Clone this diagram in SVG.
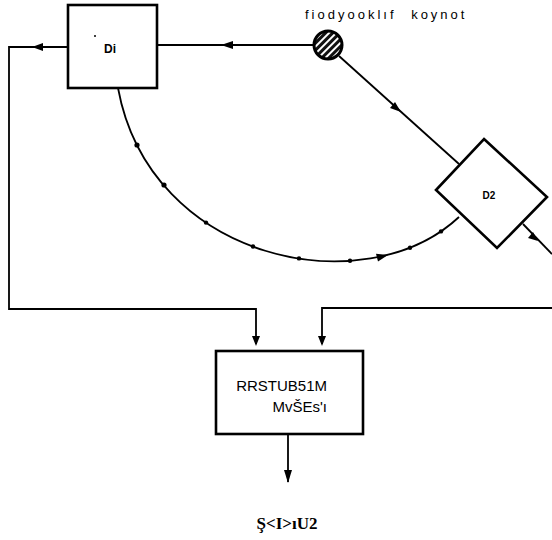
<svg xmlns="http://www.w3.org/2000/svg" width="552" height="540" viewBox="0 0 552 540">
<style>
.ln{fill:none;stroke:#000;stroke-width:1.8}
.bx{fill:#fff;stroke:#000;stroke-width:2.6}
.ah{fill:#000}
.dot{fill:#000}
.lbl{font-family:"Liberation Sans",Arial,sans-serif;fill:#000}
</style>
<defs>
<pattern id="hatch" patternUnits="userSpaceOnUse" width="5" height="5" patternTransform="rotate(-45)">
<rect width="5" height="5" fill="#111"/>
<rect width="5" height="2" fill="#fff"/>
</pattern>
</defs>
<g id="connectors">
<path class="ln" d="M68,47 H9 V309 H256 V344"/>
<path class="ln" d="M313,45 H157"/>
<path class="ln" d="M339,56 L459,164"/>
<path class="ln" d="M118,88 C150,262 365,305 459,217"/>
<path class="ln" d="M523,224 L552,254"/>
<path class="ln" d="M552,308 H322 V344"/>
<path class="ln" d="M288,435 V482"/>
<polygon class="ah" points="32,47 43,43 43,51"/>
<polygon class="ah" points="221,45 233,41 233,49"/>
<polygon class="ah" points="401,112 390,108 395,102"/>
<polygon class="ah" points="256,346 252,336 260,336"/>
<polygon class="ah" points="322,346 318,336 326,336"/>
<polygon class="ah" points="288,483 284,470 292,470"/>
<polygon class="ah" points="388,255 376,253.8 378,261.6"/>
<polygon class="ah" points="538,241 528,238 533,232"/>
<circle class="dot" cx="137" cy="145" r="2.6"/>
<circle class="dot" cx="164" cy="185" r="2.6"/>
<circle class="dot" cx="206" cy="222.6" r="2.2"/>
<circle class="dot" cx="253" cy="246.5" r="2.2"/>
<circle class="dot" cx="299" cy="258.4" r="2.2"/>
<circle class="dot" cx="350" cy="260.8" r="2.2"/>
<circle class="dot" cx="410" cy="247.8" r="2.2"/>
<circle class="dot" cx="441" cy="231.4" r="2.2"/>
</g>
<g id="D1">
<rect class="bx" x="68" y="5" width="89" height="83"/>
<circle class="dot" cx="95" cy="36" r="1"/>
<text class="lbl" x="110" y="53" font-size="12" font-weight="bold" text-anchor="middle">Di</text>
</g>
<g id="source">
<circle cx="328" cy="45" r="14" fill="url(#hatch)" stroke="#000" stroke-width="3"/>
<text class="lbl" x="305" y="19" font-size="13" letter-spacing="3" word-spacing="8">fiodyooklıf koynot</text>
</g>
<g id="D2">
<polygon class="bx" stroke-width="2" points="484,139 547,197 497,248 436,190"/>
<text class="lbl" x="489" y="199" font-size="10" font-weight="bold" text-anchor="middle">D2</text>
</g>
<g id="box">
<rect class="bx" x="216" y="351" width="147" height="83"/>
<text class="lbl" x="327" y="391" font-size="15" text-anchor="end">RRSTUB51M</text>
<text class="lbl" x="327" y="412" font-size="15" text-anchor="end">MvŠEs'ı</text>
</g>
<g id="output">
<text x="287" y="529" font-family="'Liberation Serif','Times New Roman',serif" font-size="17" font-weight="bold" text-anchor="middle">Ş&lt;I&gt;ıU2</text>
</g>
</svg>
